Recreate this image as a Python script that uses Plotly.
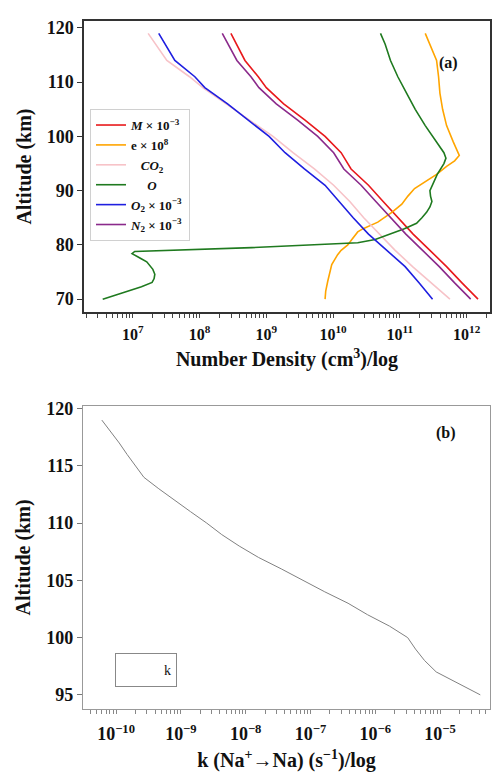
import plotly.graph_objects as go

# ---------------- Panel (a) data ----------------
ALT_MAIN = [119, 114, 111, 109, 106, 103, 100, 97, 94, 91, 88, 85, 82, 79, 76, 73, 70]
M_VALS = [2.95e8, 4.79e8, 7.59e8, 1.00e9, 1.82e9, 3.80e9, 7.59e9, 1.32e10, 1.86e10, 3.39e10,
          5.62e10, 9.33e10, 1.58e11, 2.82e11, 5.01e11, 8.51e11, 1.48e12]
N2_VALS = [2.19e8, 3.63e8, 5.89e8, 7.76e8, 1.41e9, 2.95e9, 5.89e9, 1.02e10, 1.45e10, 2.63e10,
           4.37e10, 7.24e10, 1.23e11, 2.19e11, 3.89e11, 6.61e11, 1.15e12]
O2_VALS = [2.45e7, 4.27e7, 8.51e7, 1.20e8, 2.63e8, 5.37e8, 1.10e9, 1.91e9, 3.72e9, 7.59e9,
           1.23e10, 2.00e10, 3.39e10, 6.31e10, 1.20e11, 1.95e11, 3.09e11]
CO2_VALS = [1.70e7, 3.24e7, 7.08e7, 1.12e8, 2.51e8, 5.62e8, 1.26e9, 2.51e9, 5.25e9, 1.02e10,
            1.78e10, 2.88e10, 4.90e10, 8.51e10, 1.55e11, 2.95e11, 5.62e11]

ALT_O = [119, 117, 114, 111, 108, 105, 102, 99, 97, 96, 95, 93, 91, 90, 89, 88, 87, 86, 85, 84,
         83, 82, 81, 80.4, 79.5, 78.8, 78.4, 77.5, 76.9, 75.5, 74.6, 73.8, 73.1, 72.3, 71.5, 70.7, 70]
O_VALS = [5.13e10, 6.03e10, 7.24e10, 9.33e10, 1.26e11, 1.70e11, 2.40e11, 3.55e11, 4.57e11, 4.90e11,
          4.57e11, 3.63e11, 3.09e11, 2.82e11, 2.88e11, 3.02e11, 2.82e11, 2.51e11, 2.14e11, 1.78e11,
          1.17e11, 7.08e10, 4.27e10, 2.34e10, 6.03e8, 1.07e7, 9.77e6, 1.32e7, 1.62e7, 2.00e7,
          2.14e7, 2.09e7, 1.95e7, 1.35e7, 8.51e6, 5.50e6, 3.55e6]

ALT_E = [119, 117, 114, 111, 108, 105, 102, 99, 97.7, 96.5, 95.5, 94.5, 93, 91.5, 90.4, 89, 87.5,
         86, 84.2, 83, 82.4, 81, 80, 79, 78.2, 76.4, 75, 73.3, 71.5, 70]
E_VALS = [2.40e11, 2.82e11, 3.55e11, 3.80e11, 3.98e11, 4.37e11, 5.01e11, 6.31e11, 7.08e11, 7.76e11,
          6.61e11, 5.01e11, 3.55e11, 2.24e11, 1.66e11, 1.32e11, 1.07e11, 7.59e10, 4.68e10, 2.82e10,
          2.34e10, 1.91e10, 1.66e10, 1.32e10, 1.17e10, 9.55e9, 8.91e9, 8.32e9, 7.76e9, 7.59e9]

# ---------------- Panel (b) data ----------------
ALT_K = [119, 118, 117, 116, 115, 114, 113, 112, 111, 110, 109, 108, 107, 106, 105, 104, 103,
         102, 101, 100, 99, 98, 97, 96, 95]
K_VALS = [6.03e-11, 8.32e-11, 1.12e-10, 1.48e-10, 2.00e-10, 2.69e-10, 4.57e-10, 7.94e-10, 1.41e-9,
          2.51e-9, 4.27e-9, 7.94e-9, 1.58e-8, 3.55e-8, 7.59e-8, 1.66e-7, 3.80e-7, 7.59e-7, 1.66e-6,
          3.16e-6, 4.17e-6, 5.75e-6, 8.71e-6, 1.91e-5, 4.17e-5]

# ---------------- tick labels ----------------
XA_DECADES = [7, 8, 9, 10, 11, 12]
XA_TICKTEXT = ["10<sup>7</sup>", "10<sup>8</sup>", "10<sup>9</sup>", "10<sup>10</sup>",
               "10<sup>11</sup>", "10<sup>12</sup>"]
YA_TICKVALS = [70, 80, 90, 100, 110, 120]
XB_DECADES = [-10, -9, -8, -7, -6, -5]
XB_TICKTEXT = ["10<sup>\u221210</sup>", "10<sup>\u22129</sup>", "10<sup>\u22128</sup>",
               "10<sup>\u22127</sup>", "10<sup>\u22126</sup>", "10<sup>\u22125</sup>"]
YB_TICKVALS = [95, 100, 105, 110, 115, 120]

SERIES_A = [
    ("<i>M</i> \u00d7 10<sup>\u22123</sup>", M_VALS, ALT_MAIN, "#e8191c"),
    ("e \u00d7 10<sup>8</sup>", E_VALS, ALT_E, "#ffa500"),
    ("   <i>CO</i><sub>2</sub>", CO2_VALS, ALT_MAIN, "#f7c3c8"),
    ("     <i>O</i>", O_VALS, ALT_O, "#1f7a1f"),
    ("<i>O</i><sub>2</sub> \u00d7 10<sup>\u22123</sup>", O2_VALS, ALT_MAIN, "#1f1fe0"),
    ("<i>N</i><sub>2</sub> \u00d7 10<sup>\u22123</sup>", N2_VALS, ALT_MAIN, "#8b2a8b"),
]

FONT = "Liberation Serif"
W, H = 496, 772


def log_ticks(lo, hi, decades, labels):
    """Decade ticks with labels plus unlabeled 2..9 minor ticks."""
    vals, text = [], []
    lab = dict(zip(decades, labels))
    for d in range(lo, hi + 1):
        for m in range(1, 10):
            vals.append(m * 10.0 ** d)
            text.append(lab.get(d, "") if m == 1 else "")
    return vals, text


XA_VALS, XA_TEXT = log_ticks(6, 12, XA_DECADES, XA_TICKTEXT)
XB_VALS, XB_TEXT = log_ticks(-11, -5, XB_DECADES, XB_TICKTEXT)

fig = go.Figure()
for name, xs, ys, col in SERIES_A:
    fig.add_trace(go.Scatter(x=xs, y=ys, mode="lines", name=name,
                             line=dict(color=col, width=1.6),
                             xaxis="x", yaxis="y", legend="legend"))

fig.add_trace(go.Scatter(x=K_VALS, y=ALT_K, mode="lines", name="k", showlegend=False,
                         line=dict(color="#808080", width=1), xaxis="x2", yaxis="y2"))
# legend entry for panel (b) (its sample is not visible in the reference)
fig.add_trace(go.Scatter(x=[None], y=[None], mode="lines", name="k",
                         line=dict(color="rgba(255,255,255,0)", width=1),
                         xaxis="x2", yaxis="y2", legend="legend2"))

tickfont_big = dict(family=FONT, size=18, color="#111", weight="bold")
tickfont_x = dict(family=FONT, size=16, color="#111", weight="bold")
titlefont = dict(family=FONT, size=20, color="#111", weight="bold")

fig.update_layout(
    width=W, height=H,
    margin=dict(l=0, r=0, t=0, b=0),
    paper_bgcolor="white", plot_bgcolor="white",
    showlegend=True,
    xaxis=dict(type="log", range=[6.27, 12.35], domain=[84 / W, 490 / W], anchor="y",
               tickmode="array", tickvals=XA_VALS, ticktext=XA_TEXT, ticks="outside", ticklen=4,
               tickcolor="#444", tickfont=tickfont_x, showgrid=False, zeroline=False,
               ticklabelstandoff=3,
               showline=True, mirror=True, linecolor="#333", linewidth=1.5,
               title=dict(text="Number Density (cm<sup>3</sup>)/log", font=titlefont, standoff=10)),
    yaxis=dict(range=[67.6, 121.3], domain=[1 - 308 / H, 1 - 14 / H], anchor="x",
               tickvals=YA_TICKVALS, ticks="outside", ticklen=5, tickcolor="#333",
               tickfont=tickfont_big, showgrid=False, zeroline=False,
               showline=True, mirror=True, linecolor="#333", linewidth=1.5,
               title=dict(text="Altitude (km)", font=titlefont, standoff=10)),
    xaxis2=dict(type="log", range=[-10.51, -4.23], domain=[83 / W, 490 / W], anchor="y2",
                tickmode="array", tickvals=XB_VALS, ticktext=XB_TEXT, ticks="outside", ticklen=4,
                tickcolor="#888", tickfont=tickfont_big, showgrid=False, zeroline=False,
                ticklabelstandoff=5,
                showline=True, mirror=True, linecolor="#999", linewidth=1.2,
                title=dict(text="k (Na<sup>+</sup>\u2192Na) (s<sup>\u22121</sup>)/log", font=titlefont,
                           standoff=12)),
    yaxis2=dict(range=[93.8, 120.2], domain=[1 - 708 / H, 1 - 403 / H], anchor="x2",
                tickvals=YB_TICKVALS, ticks="outside", ticklen=5, tickcolor="#777",
                tickfont=tickfont_big, showgrid=False, zeroline=False,
                showline=True, mirror=True, linecolor="#999", linewidth=1.2,
                title=dict(text="Altitude (km)", font=titlefont, standoff=10)),
    legend=dict(x=90 / W, y=1 - 103 / H, xanchor="left", yanchor="top",
                bgcolor="white", bordercolor="#d0d0d0", borderwidth=1,
                font=dict(family=FONT, size=13, color="#111", weight="bold"),
                itemwidth=30, tracegroupgap=0),
    legend2=dict(x=115 / W, y=1 - 652 / H, xanchor="left", yanchor="top",
                 bgcolor="white", bordercolor="#888", borderwidth=1, itemwidth=38,
                 font=dict(family=FONT, size=14, color="#111")),
    annotations=[
        dict(text="(a)", x=460 / W, y=1 - 45 / H, xref="paper", yref="paper",
             showarrow=False, font=dict(family=FONT, size=16, color="#111", weight="bold")),
        dict(text="(b)", x=458 / W, y=1 - 430 / H, xref="paper", yref="paper",
             showarrow=False, font=dict(family=FONT, size=16, color="#111", weight="bold")),
    ],
)

fig.write_html("out.html")
